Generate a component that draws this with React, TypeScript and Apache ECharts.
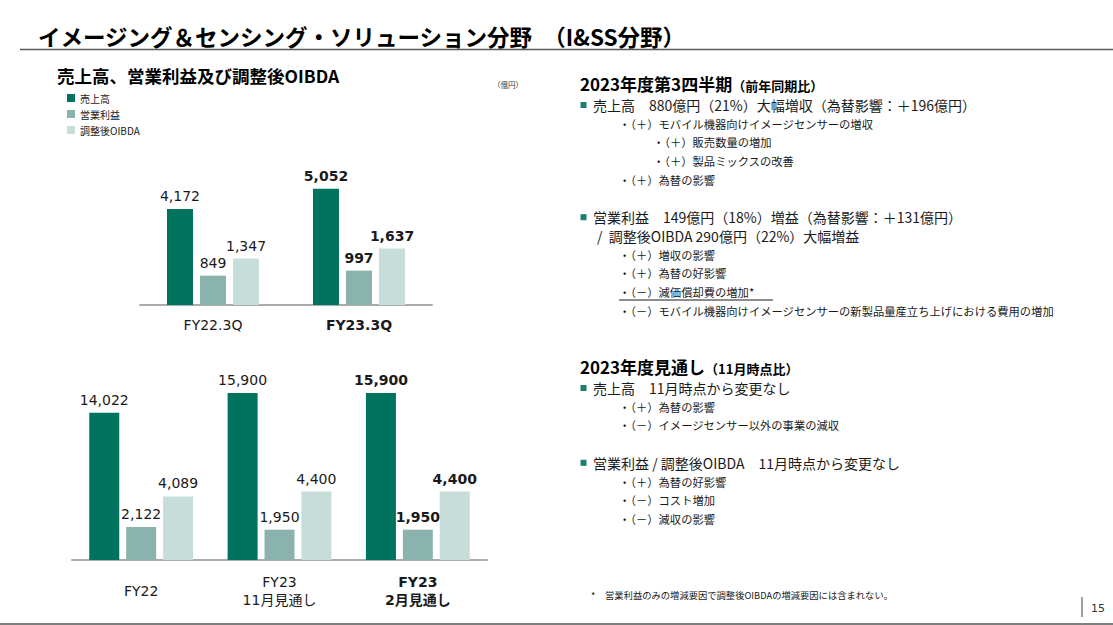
import React, { useEffect, useRef } from "react";
import * as echarts from "echarts";

// ---- data ----
const seriesNames = ["売上高", "営業利益", "調整後OIBDA"];
const barColors = ["#00735F", "#8BB3AE", "#C6DDD9"];

const qCategories = ["FY22.3Q", "FY23.3Q"];
const qSales = [4172, 5052];
const qOpIncome = [849, 997];
const qOibda = [1347, 1637];

const yCategories = ["FY22", "FY23\n11月見通し", "FY23\n2月見通し"];
const ySales = [14022, 15900, 15900];
const yOpIncome = [2122, 1950, 1950];
const yOibda = [4089, 4400, 4400];

const pageTitle = "イメージング＆センシング・ソリューション分野　（I&SS分野）";
const chartTitle = "売上高、営業利益及び調整後OIBDA";
const unitText = "（億円）";

const sec1Head = "2023年度第3四半期";
const sec1Sub = "（前年同期比）";
const sec1Lines: (string | null)[] = [
  "■売上高　880億円（21%）大幅増収（為替影響：＋196億円）",
  "1・（＋）モバイル機器向けイメージセンサーの増収",
  "2・（＋）販売数量の増加",
  "2・（＋）製品ミックスの改善",
  "1・（＋）為替の影響",
  null,
  "■営業利益　149億円（18%）増益（為替影響：＋131億円）",
  "//  調整後OIBDA 290億円（22%）大幅増益",
  "1・（＋）増収の影響",
  "1・（＋）為替の好影響",
  "U・（－）減価償却費の増加*",
  "1・（－）モバイル機器向けイメージセンサーの新製品量産立ち上げにおける費用の増加",
];

const sec2Head = "2023年度見通し";
const sec2Sub = "（11月時点比）";
const sec2Lines: (string | null)[] = [
  "■売上高　11月時点から変更なし",
  "1・（＋）為替の影響",
  "1・（－）イメージセンサー以外の事業の減収",
  null,
  "■営業利益 / 調整後OIBDA　11月時点から変更なし",
  "1・（＋）為替の好影響",
  "1・（－）コスト増加",
  "1・（－）減収の影響",
];

const footnoteMark = "*";
const footnote = "営業利益のみの増減要因で調整後OIBDAの増減要因には含まれない。";
const pageNo = "15";

// ---- styles ----
const JP = "'Noto Sans CJK JP', sans-serif";
const NUM = "'DejaVu Sans', 'Noto Sans CJK JP', sans-serif";
const TXT = "#1a1a1a";

function fmt(v: number) {
  return v.toLocaleString("en-US");
}

function buildSeries(
  values: number[][],
  axis: number,
  yAxes: number[],
  barWidth: number,
  barGap: string
) {
  return values.map((arr, si) => ({
    type: "bar",
    name: seriesNames[si],
    xAxisIndex: axis,
    yAxisIndex: yAxes[si],
    barWidth,
    barGap,
    itemStyle: { color: barColors[si] },
    label: {
      show: true,
      position: "top",
      distance: 6,
      fontFamily: NUM,
      fontSize: 14,
      color: TXT,
      formatter: (p: any) => fmt(Number(p.value)),
    },
    data: arr.map((v, i) => ({
      value: v,
      label: { fontWeight: i === arr.length - 1 ? "bold" : "normal" },
    })),
  }));
}

function catLabelFormatter(count: number) {
  return (value: string, index: number) => {
    const key = index === count - 1 ? "b" : "n";
    return value
      .split("\n")
      .map((l) => `{${key}|${l}}`)
      .join("\n");
  };
}

function textLines(lines: (string | null)[], y0: number, step: number) {
  const out: any[] = [];
  lines.forEach((raw, i) => {
    if (raw == null) return;
    const y = y0 + i * step;
    const tag = raw[0];
    if (tag === "■") {
      out.push({
        type: "rect",
        shape: { x: 580.5, y: y - 3, width: 6, height: 6 },
        style: { fill: "#1B7F6C" },
      });
      out.push({
        type: "text",
        x: 593,
        y,
        style: { text: raw.slice(1), fontSize: 14, fontFamily: JP, fill: TXT, verticalAlign: "middle" },
      });
    } else if (tag === "/") {
      out.push({
        type: "text",
        x: 597,
        y,
        style: { text: raw.slice(1), fontSize: 14, fontFamily: JP, fill: TXT, verticalAlign: "middle" },
      });
    } else {
      const x = tag === "2" ? 653 : 619;
      out.push({
        type: "text",
        x,
        y,
        style: { text: raw.slice(1), fontSize: 11.3, fontFamily: JP, fill: TXT, verticalAlign: "middle" },
      });
      if (tag === "U") {
        out.push({
          type: "line",
          shape: { x1: 619, y1: y + 8, x2: 773, y2: y + 8 },
          style: { stroke: TXT, lineWidth: 1 },
        });
      }
    }
  });
  return out;
}

function heading(main: string, sub: string, y: number) {
  return {
    type: "text",
    x: 580,
    y,
    style: {
      text: `{a|${main}}{b|${sub}}`,
      verticalAlign: "middle",
      rich: {
        a: { fontSize: 17, fontWeight: "bold", fontFamily: JP, fill: "#000", color: "#000", verticalAlign: "bottom" },
        b: { fontSize: 13, fontWeight: "bold", fontFamily: JP, fill: "#000", color: "#000", verticalAlign: "bottom" },
      },
    },
  };
}

export default function App() {
  const ref = useRef<HTMLDivElement>(null);

  useEffect(() => {
    const chart = echarts.init(ref.current!, null, { renderer: "svg" });

    const catRich = {
      n: { fontFamily: NUM, fontSize: 14, color: TXT, lineHeight: 18 },
      b: { fontFamily: NUM, fontSize: 14, color: TXT, fontWeight: "bold", lineHeight: 18 },
    };

    const axisLineStyle = { color: "#ababab", width: 2 };

    const graphics: any[] = [
      {
        type: "text",
        x: 38,
        y: 36,
        style: { text: pageTitle, fontSize: 22.5, fontWeight: "bold", fontFamily: JP, fill: "#000", verticalAlign: "middle" },
      },
      {
        type: "line",
        shape: { x1: 20, y1: 49.5, x2: 1113, y2: 49.5 },
        style: { stroke: "#595959", lineWidth: 1.5 },
      },
      {
        type: "text",
        x: 57,
        y: 75,
        style: { text: chartTitle, fontSize: 17.5, fontWeight: "bold", fontFamily: JP, fill: "#000", verticalAlign: "middle" },
      },
      {
        type: "text",
        x: 493,
        y: 84,
        style: { text: unitText, fontSize: 7.5, fontFamily: JP, fill: "#333", verticalAlign: "middle" },
      },
      heading(sec1Head, sec1Sub, 83),
      ...textLines(sec1Lines, 105, 18.7),
      heading(sec2Head, sec2Sub, 366),
      ...textLines(sec2Lines, 388, 18.7),
      {
        type: "text",
        x: 591,
        y: 595,
        style: { text: footnoteMark, fontSize: 9.3, fontFamily: JP, fill: TXT, verticalAlign: "middle" },
      },
      {
        type: "text",
        x: 605,
        y: 595,
        style: { text: footnote, fontSize: 9.3, fontFamily: JP, fill: TXT, verticalAlign: "middle" },
      },
      {
        type: "line",
        shape: { x1: 1082, y1: 597, x2: 1082, y2: 617 },
        style: { stroke: "#7f7f7f", lineWidth: 1.5 },
      },
      {
        type: "text",
        x: 1091,
        y: 608,
        style: { text: pageNo, fontSize: 11, fontFamily: NUM, fill: "#333", verticalAlign: "middle" },
      },
      {
        type: "line",
        shape: { x1: 0, y1: 624, x2: 1113, y2: 624 },
        style: { stroke: "#7f7f7f", lineWidth: 2 },
      },
    ];

    const option: any = {
      animation: false,
      backgroundColor: "#fff",
      legend: {
        data: seriesNames,
        orient: "vertical",
        left: 62,
        top: 88,
        itemWidth: 8,
        itemHeight: 8,
        itemGap: 6,
        icon: "rect",
        selectedMode: false,
        textStyle: { fontFamily: JP, fontSize: 10, color: TXT },
      },
      grid: [
        { left: 140, top: 167, width: 292, height: 138 },
        { left: 72, top: 350, width: 415, height: 210 },
      ],
      xAxis: [
        {
          type: "category",
          gridIndex: 0,
          data: qCategories,
          axisTick: { show: false },
          axisLine: { lineStyle: axisLineStyle },
          axisLabel: {
            margin: 20,
            verticalAlign: "middle",
            formatter: catLabelFormatter(qCategories.length),
            rich: catRich,
          },
        },
        {
          type: "category",
          gridIndex: 1,
          data: yCategories,
          axisTick: { show: false },
          axisLine: { lineStyle: axisLineStyle },
          axisLabel: {
            margin: 31,
            verticalAlign: "middle",
            formatter: catLabelFormatter(yCategories.length),
            rich: catRich,
          },
        },
      ],
      yAxis: [
        { type: "value", gridIndex: 0, min: 0, max: 6000, show: false, splitLine: { show: false } },
        { type: "value", gridIndex: 0, min: 0, max: 4000, show: false, splitLine: { show: false } },
        { type: "value", gridIndex: 1, min: 0, max: 20000, show: false, splitLine: { show: false } },
        { type: "value", gridIndex: 1, min: 0, max: 13500, show: false, splitLine: { show: false } },
      ],
      series: [
        ...buildSeries([qSales, qOpIncome, qOibda], 0, [0, 1, 1], 26, "27%"),
        ...buildSeries([ySales, yOpIncome, yOibda], 1, [2, 3, 3], 30, "23%"),
      ],
      graphic: graphics,
    };

    chart.setOption(option);
    return () => chart.dispose();
  }, []);

  return (
    <div
      ref={ref}
      style={{ position: "fixed", left: 0, top: 0, width: 1113, height: 625, background: "#fff" }}
    />
  );
}
